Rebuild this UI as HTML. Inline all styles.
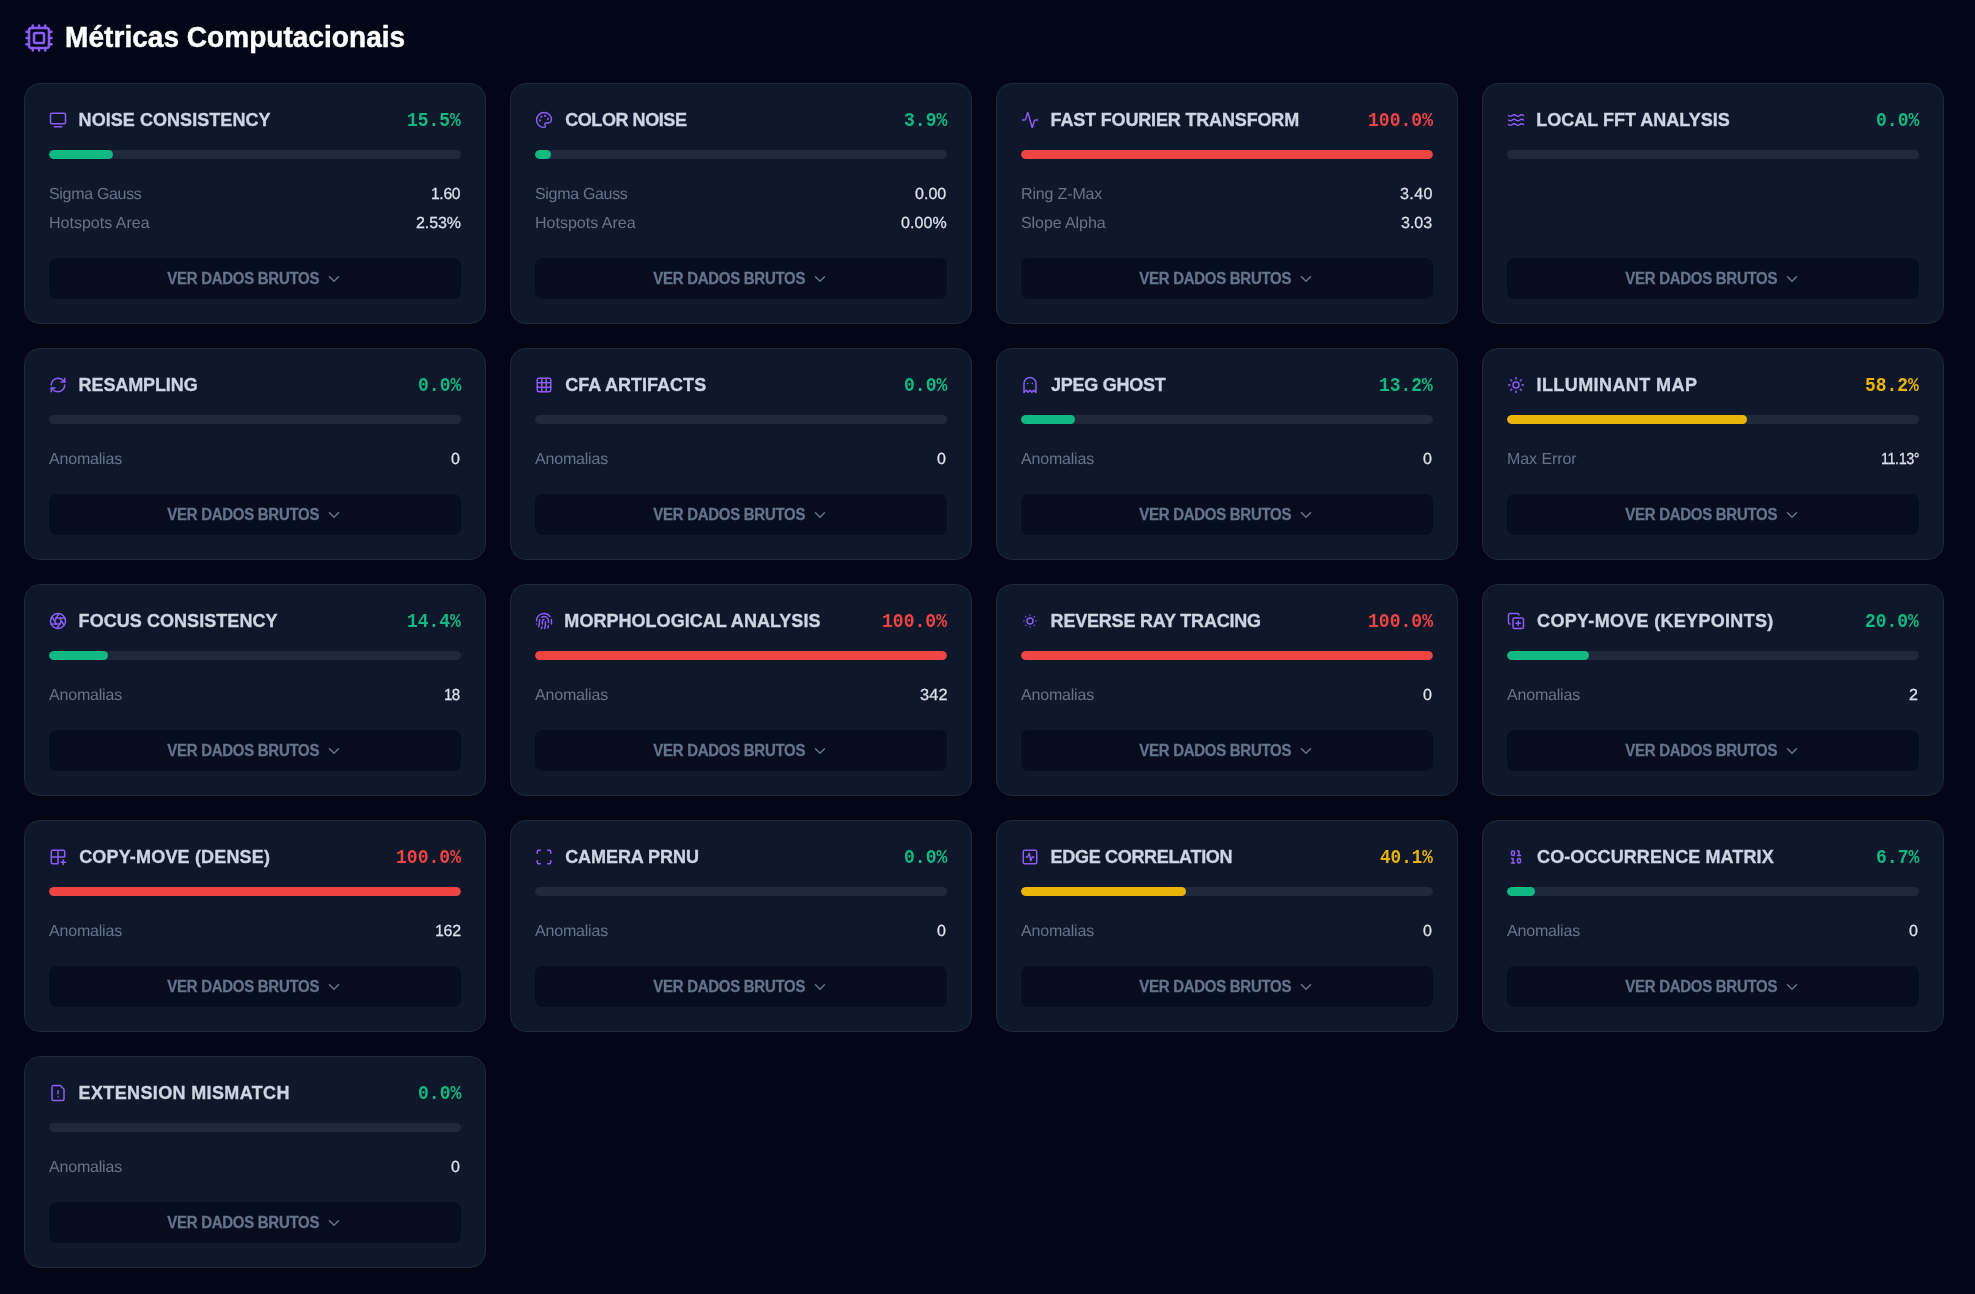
<!DOCTYPE html>
<html lang="pt-BR"><head><meta charset="utf-8"><title>Métricas Computacionais</title>
<style>
*{box-sizing:border-box;margin:0;padding:0}
html,body{width:1975px;height:1294px;overflow:hidden;background:#020617;font-family:"Liberation Sans",sans-serif}
#root{position:absolute;left:0;top:0;width:1975px;height:1294px;will-change:transform}
svg{position:absolute;display:block}
.hico{left:24px;top:23px;color:#8b5cf6}
.ico{color:#8b5cf6}
.chev{color:#64748b}
.t{position:absolute;white-space:nowrap;line-height:24px;height:24px;transform-origin:0 75%}
.h{-webkit-text-stroke:.45px #fff;font-size:28px;font-weight:700;color:#fff;margin-top:26px;transform:scaleY(1.054)}
.card{position:absolute;width:462px;background:#0f172a;border:1px solid #1e293b;border-radius:16px}
.tt{-webkit-text-stroke:.32px #cbd5e1;font-size:18px;font-weight:700;color:#cbd5e1;margin-top:25px;transform:scaleY(1.07)}
.pct{font-family:"Liberation Mono",monospace;font-weight:700;font-size:19.5px;margin-top:26px;transform-origin:0 50%}
.g{color:#10b981}.r{color:#ef4444}.y{color:#eab308}
.bar{position:absolute;width:412px;height:9px;border-radius:5px;background:#1e293b;overflow:hidden}
.fill{height:100%;border-radius:5px}
.fill.g{background:#10b981}.fill.r{background:#ef4444}.fill.y{background:#eab308}
.k{font-size:16px;color:#64748b;margin-top:99px;transform:rotate(0.03deg)}
.v{-webkit-text-stroke:.25px #dbe2ec;font-size:16px;color:#dbe2ec;margin-top:98.7px;transform:rotate(0.03deg)}
.btn{position:absolute;width:412px;height:41px;border-radius:8px;background:#070d1f}
.bt{-webkit-text-stroke:.28px #64748b;font-size:15px;font-weight:700;color:#64748b;margin-top:8.5px;transform:scaleY(1.04)}

</style></head><body><div id="root">
<svg class="hico" width="30" height="30" viewBox="0 0 24 24" fill="none" stroke="currentColor" stroke-width="2" stroke-linecap="round" stroke-linejoin="round"><path d="M12 20v2"/><path d="M12 2v2"/><path d="M17 20v2"/><path d="M17 2v2"/><path d="M2 12h2"/><path d="M2 17h2"/><path d="M2 7h2"/><path d="M20 12h2"/><path d="M20 17h2"/><path d="M20 7h2"/><path d="M7 20v2"/><path d="M7 2v2"/><rect x="4" y="4" width="16" height="16" rx="2"/><rect x="8" y="8" width="8" height="8" rx="1"/></svg>
<span id="h" class="t h" style="left:65.12px;top:0px;letter-spacing:0.038px">Métricas Computacionais</span>
<div class="card" style="left:24px;top:83px;height:241px"></div>
<svg style="left:49px;top:111px" class="ico" width="18" height="18" viewBox="0 0 24 24" fill="none" stroke="currentColor" stroke-width="2" stroke-linecap="round" stroke-linejoin="round"><path d="M7 21h10"/><rect width="20" height="14" x="2" y="3" rx="2"/></svg>
<span id="t0" class="t tt" style="left:78.60px;top:83px;letter-spacing:0.055px">NOISE CONSISTENCY</span>
<span id="p0" class="t pct g" style="left:406.50px;top:83px;transform:scaleX(0.9188)">15.5%</span>
<div class="bar" style="left:49px;top:150px"><div class="fill g" style="width:63.9px"></div></div>
<span id="k0_0" class="t k" style="left:48.76px;top:83px;letter-spacing:-0.320px">Sigma Gauss</span>
<span id="v0_0" class="t v" style="left:431.46px;top:83px;letter-spacing:-0.336px;transform:rotate(0.03deg) scale(0.9779,1)">1.60</span>
<span id="k0_1" class="t k" style="left:48.76px;top:112px;letter-spacing:0.008px">Hotspots Area</span>
<span id="v0_1" class="t v" style="left:415.52px;top:112px;letter-spacing:-0.080px">2.53%</span>
<div class="btn" style="left:49px;top:258px"></div>
<span id="b0" class="t bt" style="left:167.32px;top:258px;letter-spacing:-0.287px">VER DADOS BRUTOS</span>
<svg style="left:325px;top:270px" class="chev" width="18" height="18" viewBox="0 0 24 24" fill="none" stroke="currentColor" stroke-width="2" stroke-linecap="round" stroke-linejoin="round"><path d="m6 9 6 6 6-6"/></svg>
<div class="card" style="left:510px;top:83px;height:241px"></div>
<svg style="left:535px;top:111px" class="ico" width="18" height="18" viewBox="0 0 24 24" fill="none" stroke="currentColor" stroke-width="2" stroke-linecap="round" stroke-linejoin="round"><path d="M12 22a1 1 0 0 1 0-20 10 9 0 0 1 10 9 5 5 0 0 1-5 5h-2.250a1.750 1.750 0 0 0-1.400 2.800l.3.4a1.750 1.750 0 0 1-1.400 2.800z"/><circle cx="13.500" cy="6.500" r=".5" fill="currentColor"/><circle cx="17.500" cy="10.500" r=".5" fill="currentColor"/><circle cx="6.500" cy="12.500" r=".5" fill="currentColor"/><circle cx="8.500" cy="7.500" r=".5" fill="currentColor"/></svg>
<span id="t1" class="t tt" style="left:565.16px;top:83px;letter-spacing:-0.424px">COLOR NOISE</span>
<span id="p1" class="t pct g" style="left:903.94px;top:83px;transform:scaleX(0.9253)">3.9%</span>
<div class="bar" style="left:535px;top:150px"><div class="fill g" style="width:16.1px"></div></div>
<span id="k1_0" class="t k" style="left:534.76px;top:83px;letter-spacing:-0.320px">Sigma Gauss</span>
<span id="v1_0" class="t v" style="left:915.34px;top:83px;letter-spacing:0.028px">0.00</span>
<span id="k1_1" class="t k" style="left:534.76px;top:112px;letter-spacing:0.008px">Hotspots Area</span>
<span id="v1_1" class="t v" style="left:900.88px;top:112px;letter-spacing:0.060px">0.00%</span>
<div class="btn" style="left:535px;top:258px"></div>
<span id="b1" class="t bt" style="left:653.32px;top:258px;letter-spacing:-0.287px">VER DADOS BRUTOS</span>
<svg style="left:811px;top:270px" class="chev" width="18" height="18" viewBox="0 0 24 24" fill="none" stroke="currentColor" stroke-width="2" stroke-linecap="round" stroke-linejoin="round"><path d="m6 9 6 6 6-6"/></svg>
<div class="card" style="left:996px;top:83px;height:241px"></div>
<svg style="left:1021px;top:111px" class="ico" width="18" height="18" viewBox="0 0 24 24" fill="none" stroke="currentColor" stroke-width="2" stroke-linecap="round" stroke-linejoin="round"><path d="M22 12h-2.480a2 2 0 0 0-1.930 1.460l-2.350 8.360a.25.25 0 0 1-.48 0L9.240 2.180a.25.25 0 0 0-.48 0l-2.350 8.360A2 2 0 0 1 4.490 12H2"/></svg>
<span id="t2" class="t tt" style="left:1050.60px;top:83px;letter-spacing:-0.165px">FAST FOURIER TRANSFORM</span>
<span id="p2" class="t pct r" style="left:1367.86px;top:83px;transform:scaleX(0.9257)">100.0%</span>
<div class="bar" style="left:1021px;top:150px"><div class="fill r" style="width:412.0px"></div></div>
<span id="k2_0" class="t k" style="left:1021.00px;top:83px;letter-spacing:-0.149px">Ring Z-Max</span>
<span id="v2_0" class="t v" style="left:1400.44px;top:83px;letter-spacing:0.379px;transform:rotate(0.03deg) scale(1.0046,1)">3.40</span>
<span id="k2_1" class="t k" style="left:1020.84px;top:112px;letter-spacing:-0.080px">Slope Alpha</span>
<span id="v2_1" class="t v" style="left:1401.44px;top:112px;letter-spacing:0.000px">3.03</span>
<div class="btn" style="left:1021px;top:258px"></div>
<span id="b2" class="t bt" style="left:1139.32px;top:258px;letter-spacing:-0.287px">VER DADOS BRUTOS</span>
<svg style="left:1297px;top:270px" class="chev" width="18" height="18" viewBox="0 0 24 24" fill="none" stroke="currentColor" stroke-width="2" stroke-linecap="round" stroke-linejoin="round"><path d="m6 9 6 6 6-6"/></svg>
<div class="card" style="left:1482px;top:83px;height:241px"></div>
<svg style="left:1507px;top:111px" class="ico" width="18" height="18" viewBox="0 0 24 24" fill="none" stroke="currentColor" stroke-width="2" stroke-linecap="round" stroke-linejoin="round"><path d="M2 6c.6.5 1.200 1 2.500 1C7 7 7 5 9.500 5c2.600 0 2.400 2 5 2 2.500 0 2.500-2 5-2 1.300 0 1.900.5 2.500 1"/><path d="M2 12c.6.5 1.200 1 2.500 1 2.500 0 2.500-2 5-2 2.600 0 2.400 2 5 2 2.500 0 2.500-2 5-2 1.300 0 1.900.5 2.500 1"/><path d="M2 18c.6.5 1.200 1 2.500 1 2.500 0 2.500-2 5-2 2.600 0 2.400 2 5 2 2.500 0 2.500-2 5-2 1.300 0 1.900.5 2.500 1"/></svg>
<span id="t3" class="t tt" style="left:1536.28px;top:83px;letter-spacing:0.009px">LOCAL FFT ANALYSIS</span>
<span id="p3" class="t pct g" style="left:1875.94px;top:83px;transform:scaleX(0.9254)">0.0%</span>
<div class="bar" style="left:1507px;top:150px"></div>
<div class="btn" style="left:1507px;top:258px"></div>
<span id="b3" class="t bt" style="left:1625.32px;top:258px;letter-spacing:-0.287px">VER DADOS BRUTOS</span>
<svg style="left:1783px;top:270px" class="chev" width="18" height="18" viewBox="0 0 24 24" fill="none" stroke="currentColor" stroke-width="2" stroke-linecap="round" stroke-linejoin="round"><path d="m6 9 6 6 6-6"/></svg>
<div class="card" style="left:24px;top:348px;height:212px"></div>
<svg style="left:49px;top:376px" class="ico" width="18" height="18" viewBox="0 0 24 24" fill="none" stroke="currentColor" stroke-width="2" stroke-linecap="round" stroke-linejoin="round"><path d="M3 12a9 9 0 0 1 9-9 9.750 9.750 0 0 1 6.740 2.740L21 8"/><path d="M21 3v5h-5"/><path d="M21 12a9 9 0 0 1-9 9 9.750 9.750 0 0 1-6.740-2.740L3 16"/><path d="M8 16H3v5"/></svg>
<span id="t4" class="t tt" style="left:78.60px;top:348px;letter-spacing:-0.108px">RESAMPLING</span>
<span id="p4" class="t pct g" style="left:417.94px;top:348px;transform:scaleX(0.9254)">0.0%</span>
<div class="bar" style="left:49px;top:415px"></div>
<span id="k4_0" class="t k" style="left:49.24px;top:348px;letter-spacing:-0.190px">Anomalias</span>
<span id="v4_0" class="t v" style="left:451.44px;top:348px;letter-spacing:0.000px">0</span>
<div class="btn" style="left:49px;top:494px"></div>
<span id="b4" class="t bt" style="left:167.32px;top:494px;letter-spacing:-0.287px">VER DADOS BRUTOS</span>
<svg style="left:325px;top:506px" class="chev" width="18" height="18" viewBox="0 0 24 24" fill="none" stroke="currentColor" stroke-width="2" stroke-linecap="round" stroke-linejoin="round"><path d="m6 9 6 6 6-6"/></svg>
<div class="card" style="left:510px;top:348px;height:212px"></div>
<svg style="left:535px;top:376px" class="ico" width="18" height="18" viewBox="0 0 24 24" fill="none" stroke="currentColor" stroke-width="2" stroke-linecap="round" stroke-linejoin="round"><rect width="18" height="18" x="3" y="3" rx="2"/><path d="M3 9h18"/><path d="M3 15h18"/><path d="M9 3v18"/><path d="M15 3v18"/></svg>
<span id="t5" class="t tt" style="left:565.16px;top:348px;letter-spacing:0.028px">CFA ARTIFACTS</span>
<span id="p5" class="t pct g" style="left:903.94px;top:348px;transform:scaleX(0.9253)">0.0%</span>
<div class="bar" style="left:535px;top:415px"></div>
<span id="k5_0" class="t k" style="left:535.24px;top:348px;letter-spacing:-0.190px">Anomalias</span>
<span id="v5_0" class="t v" style="left:937.44px;top:348px;letter-spacing:0.000px">0</span>
<div class="btn" style="left:535px;top:494px"></div>
<span id="b5" class="t bt" style="left:653.32px;top:494px;letter-spacing:-0.287px">VER DADOS BRUTOS</span>
<svg style="left:811px;top:506px" class="chev" width="18" height="18" viewBox="0 0 24 24" fill="none" stroke="currentColor" stroke-width="2" stroke-linecap="round" stroke-linejoin="round"><path d="m6 9 6 6 6-6"/></svg>
<div class="card" style="left:996px;top:348px;height:212px"></div>
<svg style="left:1021px;top:376px" class="ico" width="18" height="18" viewBox="0 0 24 24" fill="none" stroke="currentColor" stroke-width="2" stroke-linecap="round" stroke-linejoin="round"><path d="M9 10h.01"/><path d="M15 10h.01"/><path d="M12 2a8 8 0 0 0-8 8v12l3-3 2.500 2.500L12 19l2.500 2.500L17 19l3 3V10a8 8 0 0 0-8-8z"/></svg>
<span id="t6" class="t tt" style="left:1051.08px;top:348px;letter-spacing:-0.276px">JPEG GHOST</span>
<span id="p6" class="t pct g" style="left:1378.50px;top:348px;transform:scaleX(0.9188)">13.2%</span>
<div class="bar" style="left:1021px;top:415px"><div class="fill g" style="width:54.4px"></div></div>
<span id="k6_0" class="t k" style="left:1021.24px;top:348px;letter-spacing:-0.190px">Anomalias</span>
<span id="v6_0" class="t v" style="left:1423.44px;top:348px;letter-spacing:0.000px">0</span>
<div class="btn" style="left:1021px;top:494px"></div>
<span id="b6" class="t bt" style="left:1139.32px;top:494px;letter-spacing:-0.287px">VER DADOS BRUTOS</span>
<svg style="left:1297px;top:506px" class="chev" width="18" height="18" viewBox="0 0 24 24" fill="none" stroke="currentColor" stroke-width="2" stroke-linecap="round" stroke-linejoin="round"><path d="m6 9 6 6 6-6"/></svg>
<div class="card" style="left:1482px;top:348px;height:212px"></div>
<svg style="left:1507px;top:376px" class="ico" width="18" height="18" viewBox="0 0 24 24" fill="none" stroke="currentColor" stroke-width="2" stroke-linecap="round" stroke-linejoin="round"><circle cx="12" cy="12" r="4"/><path d="M12 2v2"/><path d="M12 20v2"/><path d="m4.930 4.930 1.410 1.410"/><path d="m17.660 17.660 1.410 1.410"/><path d="M2 12h2"/><path d="M20 12h2"/><path d="m6.340 17.660-1.410 1.410"/><path d="m19.070 4.930-1.410 1.410"/></svg>
<span id="t7" class="t tt" style="left:1536.52px;top:348px;letter-spacing:0.418px">ILLUMINANT MAP</span>
<span id="p7" class="t pct y" style="left:1864.50px;top:348px;transform:scaleX(0.9188)">58.2%</span>
<div class="bar" style="left:1507px;top:415px"><div class="fill y" style="width:239.8px"></div></div>
<span id="k7_0" class="t k" style="left:1507.08px;top:348px;letter-spacing:-0.070px">Max Error</span>
<span id="v7_0" class="t v" style="left:1880.64px;top:348px;letter-spacing:-0.470px;transform:rotate(0.03deg) scale(0.8980,1)">11.13°</span>
<div class="btn" style="left:1507px;top:494px"></div>
<span id="b7" class="t bt" style="left:1625.32px;top:494px;letter-spacing:-0.287px">VER DADOS BRUTOS</span>
<svg style="left:1783px;top:506px" class="chev" width="18" height="18" viewBox="0 0 24 24" fill="none" stroke="currentColor" stroke-width="2" stroke-linecap="round" stroke-linejoin="round"><path d="m6 9 6 6 6-6"/></svg>
<div class="card" style="left:24px;top:584px;height:212px"></div>
<svg style="left:49px;top:612px" class="ico" width="18" height="18" viewBox="0 0 24 24" fill="none" stroke="currentColor" stroke-width="2" stroke-linecap="round" stroke-linejoin="round"><circle cx="12" cy="12" r="10"/><path d="m14.310 8 5.740 9.940"/><path d="M9.690 8h11.480"/><path d="m7.380 12 5.740-9.940"/><path d="M9.690 16 3.950 6.060"/><path d="M14.310 16H2.830"/><path d="m16.620 12-5.740 9.940"/></svg>
<span id="t8" class="t tt" style="left:78.60px;top:584px;letter-spacing:0.055px">FOCUS CONSISTENCY</span>
<span id="p8" class="t pct g" style="left:406.50px;top:584px;transform:scaleX(0.9188)">14.4%</span>
<div class="bar" style="left:49px;top:651px"><div class="fill g" style="width:59.3px"></div></div>
<span id="k8_0" class="t k" style="left:49.24px;top:584px;letter-spacing:-0.190px">Anomalias</span>
<span id="v8_0" class="t v" style="left:444.28px;top:584px;letter-spacing:-0.550px;transform:rotate(0.03deg) scale(0.9391,1)">18</span>
<div class="btn" style="left:49px;top:730px"></div>
<span id="b8" class="t bt" style="left:167.32px;top:730px;letter-spacing:-0.287px">VER DADOS BRUTOS</span>
<svg style="left:325px;top:742px" class="chev" width="18" height="18" viewBox="0 0 24 24" fill="none" stroke="currentColor" stroke-width="2" stroke-linecap="round" stroke-linejoin="round"><path d="m6 9 6 6 6-6"/></svg>
<div class="card" style="left:510px;top:584px;height:212px"></div>
<svg style="left:535px;top:612px" class="ico" width="18" height="18" viewBox="0 0 24 24" fill="none" stroke="currentColor" stroke-width="2" stroke-linecap="round" stroke-linejoin="round"><path d="M12 10a2 2 0 0 0-2 2c0 1.020-.1 2.510-.26 4"/><path d="M14 13.120c0 2.380 0 6.380-1 8.880"/><path d="M17.290 21.020c.12-.6.43-2.300.5-3.020"/><path d="M2 12a10 10 0 0 1 18-6"/><path d="M2 16h.01"/><path d="M21.800 16c.2-2 .131-5.354 0-6"/><path d="M5 19.500C5.500 18 6 15 6 12a6 6 0 0 1 .34-2"/><path d="M8.650 22c.21-.66.45-1.320.57-2"/><path d="M9 6.800a6 6 0 0 1 9 5.200v2"/></svg>
<span id="t9" class="t tt" style="left:564.36px;top:584px;letter-spacing:0.035px">MORPHOLOGICAL ANALYSIS</span>
<span id="p9" class="t pct r" style="left:881.86px;top:584px;transform:scaleX(0.9257)">100.0%</span>
<div class="bar" style="left:535px;top:651px"><div class="fill r" style="width:412.0px"></div></div>
<span id="k9_0" class="t k" style="left:535.24px;top:584px;letter-spacing:-0.190px">Anomalias</span>
<span id="v9_0" class="t v" style="left:919.52px;top:584px;letter-spacing:0.140px;transform:rotate(0.03deg) scale(1.0200,1)">342</span>
<div class="btn" style="left:535px;top:730px"></div>
<span id="b9" class="t bt" style="left:653.32px;top:730px;letter-spacing:-0.287px">VER DADOS BRUTOS</span>
<svg style="left:811px;top:742px" class="chev" width="18" height="18" viewBox="0 0 24 24" fill="none" stroke="currentColor" stroke-width="2" stroke-linecap="round" stroke-linejoin="round"><path d="m6 9 6 6 6-6"/></svg>
<div class="card" style="left:996px;top:584px;height:212px"></div>
<svg style="left:1021px;top:612px" class="ico" width="18" height="18" viewBox="0 0 24 24" fill="none" stroke="currentColor" stroke-width="2" stroke-linecap="round" stroke-linejoin="round"><circle cx="12" cy="12" r="4"/><path d="M12 4h.01"/><path d="M20 12h.01"/><path d="M12 20h.01"/><path d="M4 12h.01"/><path d="M17.657 6.343h.01"/><path d="M17.657 17.657h.01"/><path d="M6.343 17.657h.01"/><path d="M6.343 6.343h.01"/></svg>
<span id="t10" class="t tt" style="left:1050.60px;top:584px;letter-spacing:-0.197px">REVERSE RAY TRACING</span>
<span id="p10" class="t pct r" style="left:1367.86px;top:584px;transform:scaleX(0.9257)">100.0%</span>
<div class="bar" style="left:1021px;top:651px"><div class="fill r" style="width:412.0px"></div></div>
<span id="k10_0" class="t k" style="left:1021.24px;top:584px;letter-spacing:-0.190px">Anomalias</span>
<span id="v10_0" class="t v" style="left:1423.44px;top:584px;letter-spacing:0.000px">0</span>
<div class="btn" style="left:1021px;top:730px"></div>
<span id="b10" class="t bt" style="left:1139.32px;top:730px;letter-spacing:-0.287px">VER DADOS BRUTOS</span>
<svg style="left:1297px;top:742px" class="chev" width="18" height="18" viewBox="0 0 24 24" fill="none" stroke="currentColor" stroke-width="2" stroke-linecap="round" stroke-linejoin="round"><path d="m6 9 6 6 6-6"/></svg>
<div class="card" style="left:1482px;top:584px;height:212px"></div>
<svg style="left:1507px;top:612px" class="ico" width="18" height="18" viewBox="0 0 24 24" fill="none" stroke="currentColor" stroke-width="2" stroke-linecap="round" stroke-linejoin="round"><line x1="15" x2="15" y1="12" y2="18"/><line x1="12" x2="18" y1="15" y2="15"/><rect width="14" height="14" x="8" y="8" rx="2" ry="2"/><path d="M4 16c-1.100 0-2-.9-2-2V4c0-1.100.9-2 2-2h10c1.100 0 2 .9 2 2"/></svg>
<span id="t11" class="t tt" style="left:1537.08px;top:584px;letter-spacing:0.308px">COPY-MOVE (KEYPOINTS)</span>
<span id="p11" class="t pct g" style="left:1864.50px;top:584px;transform:scaleX(0.9188)">20.0%</span>
<div class="bar" style="left:1507px;top:651px"><div class="fill g" style="width:82.4px"></div></div>
<span id="k11_0" class="t k" style="left:1507.24px;top:584px;letter-spacing:-0.190px">Anomalias</span>
<span id="v11_0" class="t v" style="left:1909.44px;top:584px;letter-spacing:0.000px">2</span>
<div class="btn" style="left:1507px;top:730px"></div>
<span id="b11" class="t bt" style="left:1625.32px;top:730px;letter-spacing:-0.287px">VER DADOS BRUTOS</span>
<svg style="left:1783px;top:742px" class="chev" width="18" height="18" viewBox="0 0 24 24" fill="none" stroke="currentColor" stroke-width="2" stroke-linecap="round" stroke-linejoin="round"><path d="m6 9 6 6 6-6"/></svg>
<div class="card" style="left:24px;top:820px;height:212px"></div>
<svg style="left:49px;top:848px" class="ico" width="18" height="18" viewBox="0 0 24 24" fill="none" stroke="currentColor" stroke-width="2" stroke-linecap="round" stroke-linejoin="round"><path d="M12 3v17a1 1 0 0 1-1 1H5a2 2 0 0 1-2-2V5a2 2 0 0 1 2-2h14a2 2 0 0 1 2 2v6a1 1 0 0 1-1 1H3"/><path d="M16 19h6"/><path d="M19 22v-6"/></svg>
<span id="t12" class="t tt" style="left:79.16px;top:820px;letter-spacing:0.175px">COPY-MOVE (DENSE)</span>
<span id="p12" class="t pct r" style="left:395.86px;top:820px;transform:scaleX(0.9257)">100.0%</span>
<div class="bar" style="left:49px;top:887px"><div class="fill r" style="width:412.0px"></div></div>
<span id="k12_0" class="t k" style="left:49.24px;top:820px;letter-spacing:-0.190px">Anomalias</span>
<span id="v12_0" class="t v" style="left:435.10px;top:820px;letter-spacing:-0.230px;transform:rotate(0.03deg) scale(0.9940,1)">162</span>
<div class="btn" style="left:49px;top:966px"></div>
<span id="b12" class="t bt" style="left:167.32px;top:966px;letter-spacing:-0.287px">VER DADOS BRUTOS</span>
<svg style="left:325px;top:978px" class="chev" width="18" height="18" viewBox="0 0 24 24" fill="none" stroke="currentColor" stroke-width="2" stroke-linecap="round" stroke-linejoin="round"><path d="m6 9 6 6 6-6"/></svg>
<div class="card" style="left:510px;top:820px;height:212px"></div>
<svg style="left:535px;top:848px" class="ico" width="18" height="18" viewBox="0 0 24 24" fill="none" stroke="currentColor" stroke-width="2" stroke-linecap="round" stroke-linejoin="round"><path d="M3 7V5a2 2 0 0 1 2-2h2"/><path d="M17 3h2a2 2 0 0 1 2 2v2"/><path d="M21 17v2a2 2 0 0 1-2 2h-2"/><path d="M7 21H5a2 2 0 0 1-2-2v-2"/></svg>
<span id="t13" class="t tt" style="left:565.16px;top:820px;letter-spacing:-0.056px">CAMERA PRNU</span>
<span id="p13" class="t pct g" style="left:903.94px;top:820px;transform:scaleX(0.9253)">0.0%</span>
<div class="bar" style="left:535px;top:887px"></div>
<span id="k13_0" class="t k" style="left:535.24px;top:820px;letter-spacing:-0.190px">Anomalias</span>
<span id="v13_0" class="t v" style="left:937.44px;top:820px;letter-spacing:0.000px">0</span>
<div class="btn" style="left:535px;top:966px"></div>
<span id="b13" class="t bt" style="left:653.32px;top:966px;letter-spacing:-0.287px">VER DADOS BRUTOS</span>
<svg style="left:811px;top:978px" class="chev" width="18" height="18" viewBox="0 0 24 24" fill="none" stroke="currentColor" stroke-width="2" stroke-linecap="round" stroke-linejoin="round"><path d="m6 9 6 6 6-6"/></svg>
<div class="card" style="left:996px;top:820px;height:212px"></div>
<svg style="left:1021px;top:848px" class="ico" width="18" height="18" viewBox="0 0 24 24" fill="none" stroke="currentColor" stroke-width="2" stroke-linecap="round" stroke-linejoin="round"><rect width="18" height="18" x="3" y="3" rx="2"/><path d="M17 12h-2l-2 5-2-10-2 5H7"/></svg>
<span id="t14" class="t tt" style="left:1050.60px;top:820px;letter-spacing:-0.317px">EDGE CORRELATION</span>
<span id="p14" class="t pct y" style="left:1380.10px;top:820px;transform:scaleX(0.9034)">40.1%</span>
<div class="bar" style="left:1021px;top:887px"><div class="fill y" style="width:165.2px"></div></div>
<span id="k14_0" class="t k" style="left:1021.24px;top:820px;letter-spacing:-0.190px">Anomalias</span>
<span id="v14_0" class="t v" style="left:1423.44px;top:820px;letter-spacing:0.000px">0</span>
<div class="btn" style="left:1021px;top:966px"></div>
<span id="b14" class="t bt" style="left:1139.32px;top:966px;letter-spacing:-0.287px">VER DADOS BRUTOS</span>
<svg style="left:1297px;top:978px" class="chev" width="18" height="18" viewBox="0 0 24 24" fill="none" stroke="currentColor" stroke-width="2" stroke-linecap="round" stroke-linejoin="round"><path d="m6 9 6 6 6-6"/></svg>
<div class="card" style="left:1482px;top:820px;height:212px"></div>
<svg style="left:1507px;top:848px" class="ico" width="18" height="18" viewBox="0 0 24 24" fill="none" stroke="currentColor" stroke-width="2" stroke-linecap="round" stroke-linejoin="round"><rect x="14" y="14" width="4" height="6" rx="2"/><rect x="6" y="4" width="4" height="6" rx="2"/><path d="M6 20h4"/><path d="M14 10h4"/><path d="M6 14h2v6"/><path d="M14 4h2v6"/></svg>
<span id="t15" class="t tt" style="left:1537.08px;top:820px;letter-spacing:0.100px">CO-OCCURRENCE MATRIX</span>
<span id="p15" class="t pct g" style="left:1875.94px;top:820px;transform:scaleX(0.9254)">6.7%</span>
<div class="bar" style="left:1507px;top:887px"><div class="fill g" style="width:27.6px"></div></div>
<span id="k15_0" class="t k" style="left:1507.24px;top:820px;letter-spacing:-0.190px">Anomalias</span>
<span id="v15_0" class="t v" style="left:1909.44px;top:820px;letter-spacing:0.000px">0</span>
<div class="btn" style="left:1507px;top:966px"></div>
<span id="b15" class="t bt" style="left:1625.32px;top:966px;letter-spacing:-0.287px">VER DADOS BRUTOS</span>
<svg style="left:1783px;top:978px" class="chev" width="18" height="18" viewBox="0 0 24 24" fill="none" stroke="currentColor" stroke-width="2" stroke-linecap="round" stroke-linejoin="round"><path d="m6 9 6 6 6-6"/></svg>
<div class="card" style="left:24px;top:1056px;height:212px"></div>
<svg style="left:49px;top:1084px" class="ico" width="18" height="18" viewBox="0 0 24 24" fill="none" stroke="currentColor" stroke-width="2" stroke-linecap="round" stroke-linejoin="round"><path d="M15 2H6a2 2 0 0 0-2 2v16a2 2 0 0 0 2 2h12a2 2 0 0 0 2-2V7Z"/><path d="M12 9v4"/><path d="M12 17h.01"/></svg>
<span id="t16" class="t tt" style="left:78.60px;top:1056px;letter-spacing:0.362px">EXTENSION MISMATCH</span>
<span id="p16" class="t pct g" style="left:417.94px;top:1056px;transform:scaleX(0.9254)">0.0%</span>
<div class="bar" style="left:49px;top:1123px"></div>
<span id="k16_0" class="t k" style="left:49.24px;top:1056px;letter-spacing:-0.190px">Anomalias</span>
<span id="v16_0" class="t v" style="left:451.44px;top:1056px;letter-spacing:0.000px">0</span>
<div class="btn" style="left:49px;top:1202px"></div>
<span id="b16" class="t bt" style="left:167.32px;top:1202px;letter-spacing:-0.287px">VER DADOS BRUTOS</span>
<svg style="left:325px;top:1214px" class="chev" width="18" height="18" viewBox="0 0 24 24" fill="none" stroke="currentColor" stroke-width="2" stroke-linecap="round" stroke-linejoin="round"><path d="m6 9 6 6 6-6"/></svg>
</div></body></html>
